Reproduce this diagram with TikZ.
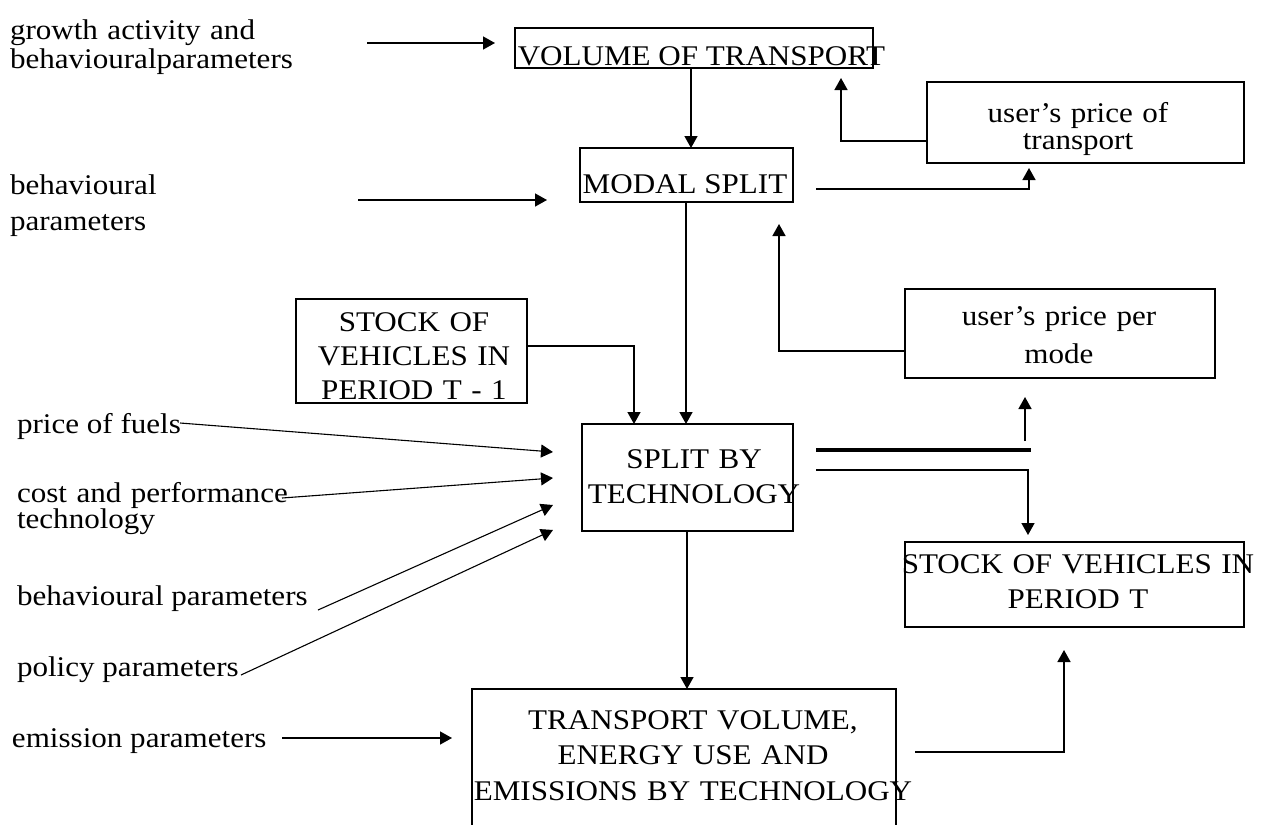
\documentclass[tikz,border=0pt]{standalone}
\usepackage{fontspec}
\setmainfont{Liberation Serif}[FakeStretch=1.09]
\usetikzlibrary{arrows.meta}
\begin{document}
\begin{tikzpicture}[x=1pt,y=-1pt,
  every node/.style={font=\fontsize{28.5}{34}\selectfont, inner sep=0pt, outer sep=0pt},
  box/.style={draw, line width=1.5pt, rectangle},
  arr/.style={line width=1.5pt, -{Triangle[length=12pt,width=13pt]}},
  slant/.style={line width=1.1pt, -{Triangle[length=12pt,width=13pt]}},
  lbl/.style={anchor=base west},
  mlbl/.style={anchor=base west, align=left, text width=420pt},
  ctr/.style={anchor=base},
  mctr/.style={anchor=base, align=center, text width=440pt},
]
\useasboundingbox (0,0) rectangle (1262,825);
\fill[white] (0,0) rectangle (1262,825);
\clip (0,0) rectangle (1262,825);

% boxes
\node[box, minimum width=358pt, minimum height=40pt] (vol) at (694,48) {};
\node[box, minimum width=213pt, minimum height=54pt] (modal) at (686.5,175) {};
\node[box, minimum width=317pt, minimum height=81pt] (usertr) at (1085.5,122.5) {};
\node[box, minimum width=231pt, minimum height=104pt] (stock1) at (411.5,351) {};
\node[box, minimum width=310pt, minimum height=89pt] (userpm) at (1060,333.5) {};
\node[box, minimum width=211pt, minimum height=107pt] (split) at (687.5,477.5) {};
\node[box, minimum width=339pt, minimum height=85pt] (stockT) at (1074.5,584.5) {};
\node[box, minimum width=424pt, minimum height=172pt] (trans) at (684,775) {};

% box texts
\node[ctr] (volT) at (701.5,65) {VOLUME OF TRANSPORT};
\node[ctr] (modalT) at (685,193) {MODAL SPLIT};
\node[mctr, font=\fontsize{28.5}{27}\selectfont] (usertrT) at (1078,122) {user’s price of\\transport};
\node[mctr, font=\fontsize{28.5}{34}\selectfont] (stock1T) at (414,331) {STOCK OF\\VEHICLES IN\\PERIOD T - 1};
\node[mctr, font=\fontsize{28.5}{38}\selectfont] (userpmT) at (1059,325) {user’s price per\\mode};
\node[mctr, font=\fontsize{28.5}{35}\selectfont] (splitT) at (694,468) {SPLIT BY\\TECHNOLOGY};
\node[mctr, font=\fontsize{28.5}{35}\selectfont] (stockTT) at (1078,573) {STOCK OF VEHICLES IN\\PERIOD T};
\node[mctr, font=\fontsize{28.5}{35.5}\selectfont] (transT) at (693,729) {TRANSPORT VOLUME,\\ENERGY USE AND\\EMISSIONS BY TECHNOLOGY};

% left texts
\node[mlbl, font=\fontsize{28.5}{29}\selectfont] (growth) at (10,39) {growth activity and\\behaviouralparameters};
\node[mlbl, font=\fontsize{28.5}{36}\selectfont] (behav1) at (10,194) {behavioural\\parameters};
\node[lbl] (fuels) at (17,433) {price of fuels};
\node[mlbl, font=\fontsize{28.5}{26}\selectfont] (cost) at (17,502) {cost and performance\\technology};
\node[lbl] (behav2) at (17,605) {behavioural parameters};
\node[lbl] (policy) at (17,676) {policy parameters};
\node[lbl] (emis) at (12,747) {emission parameters};

% free ends
\coordinate (g1) at (367,43);   \coordinate (g2) at (495,43);
\coordinate (b1) at (358,200);  \coordinate (b2) at (547,200);
\coordinate (f1) at (180,423);  \coordinate (f2) at (553,452);
\coordinate (c1) at (282,498);  \coordinate (c2) at (553,478);
\coordinate (p1) at (318,610);  \coordinate (p2) at (553,505);
\coordinate (q1) at (241,675);  \coordinate (q2) at (553,530);
\coordinate (e1) at (282,738);  \coordinate (e2) at (452,738);
\coordinate (m1) at (816,189);  \coordinate (m2) at (1029,168);
\coordinate (s1) at (816,450);  \coordinate (s2) at (1031,450);
\coordinate (u1) at (1025,441); \coordinate (u2) at (1025,397);
\coordinate (t1) at (816,470);  \coordinate (t2) at (1028,535);
\coordinate (r1) at (915,752);  \coordinate (r2) at (1064,650);

% connectors
\draw[arr] (g1) -- (g2);
\draw[arr] (b1) -- (b2);
\draw[arr] (vol.south -| 691,0) -- (modal.north -| 691,0);
\draw[arr] (usertr.west |- 0,141) -| (841,78);
\draw[arr] (m1) -| (m2);
\draw[arr] (modal.south -| 686,0) -- (split.north -| 686,0);
\draw[arr] (stock1.east |- 0,346) -| (split.north -| 634,0);
\draw[arr] (userpm.west |- 0,351) -| (779,224);
\draw[line width=4pt] (s1) -- (s2);
\draw[arr] (u1) -- (u2);
\draw[arr] (t1) -| (t2);
\draw[arr] (split.south -| 687,0) -- (trans.north -| 687,0);
\draw[slant] (f1) -- (f2);
\draw[slant] (c1) -- (c2);
\draw[slant] (p1) -- (p2);
\draw[slant] (q1) -- (q2);
\draw[arr] (e1) -- (e2);
\draw[arr] (r1) -| (r2);
\end{tikzpicture}
\end{document}
